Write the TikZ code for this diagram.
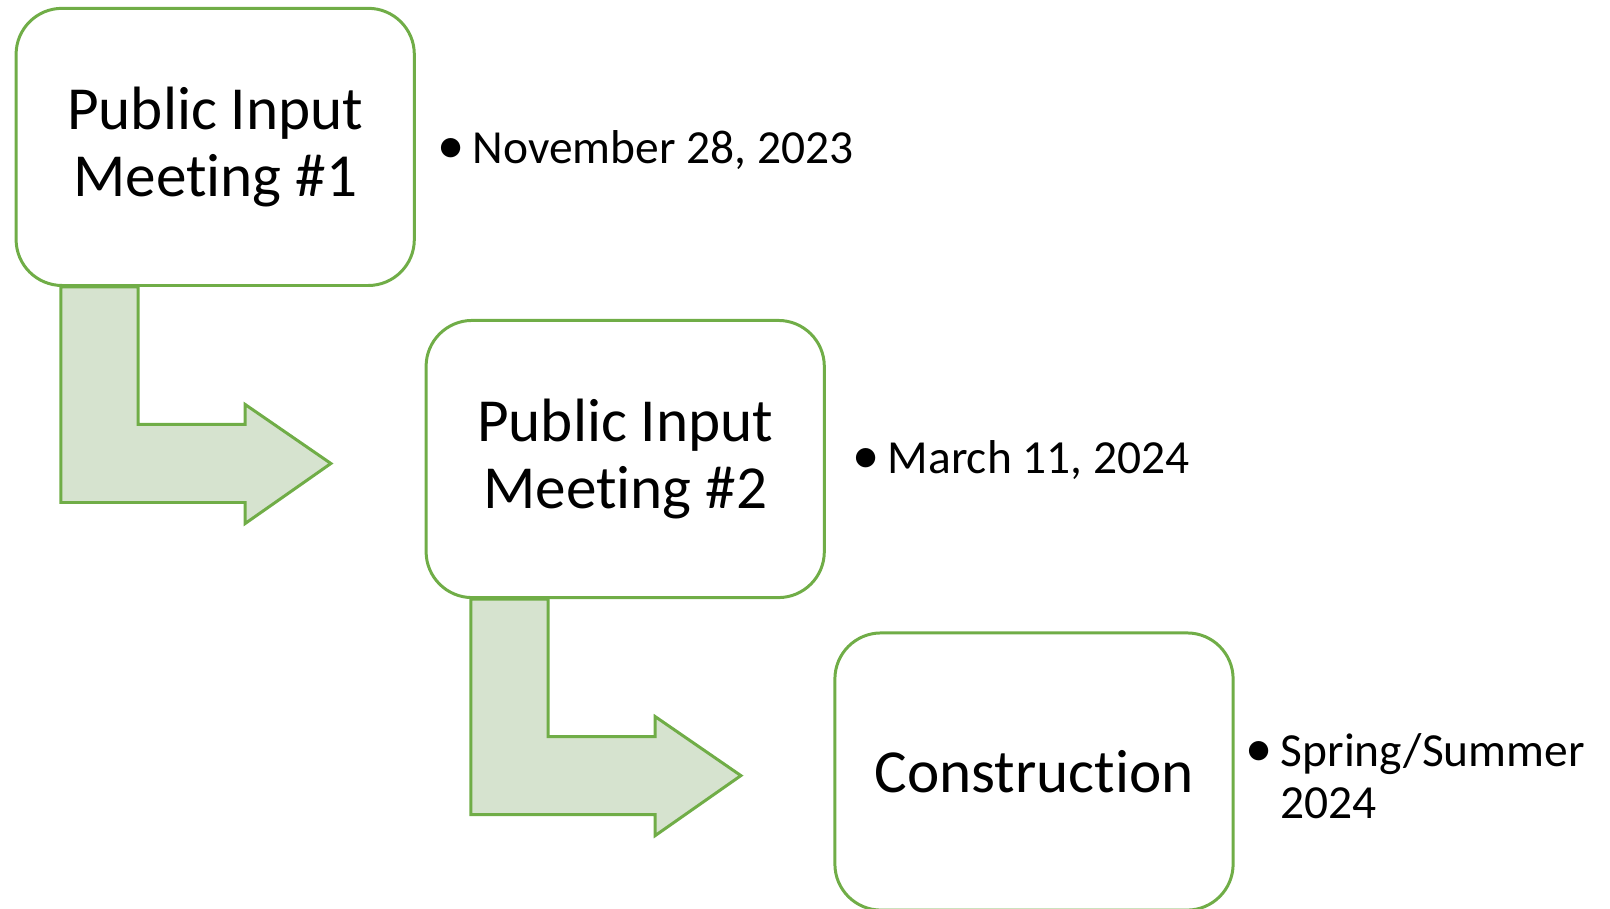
\documentclass[tikz,border=0pt]{standalone}
\usepackage{fontspec}
\setmainfont{Carlito}[Ligatures=NoCommon]
\definecolor{meetgreen}{HTML}{70AD47}
\definecolor{arrowfill}{RGB}{214,227,207}
\newcommand{\datebul}[1]{\makebox[0.33cm][l]{\hspace*{-0.02cm}\scalebox{1.15}{\textbullet}}\begin{tabular}[t]{@{}l@{}}#1\end{tabular}}
\tikzset{
  meetbox/.style={draw=meetgreen, line width=0.85pt, fill=white, rounded corners=0.46cm,
    minimum width=3.98cm, minimum height=2.77cm, align=center,
    font=\fontsize{17.4}{18.9}\selectfont},
  datetext/.style={anchor=base west, inner sep=0pt, font=\fontsize{13.5}{14.8}\selectfont},
  bentarrow/.style={draw=meetgreen, fill=arrowfill, line width=0.85pt}
}
\begin{document}
\begin{tikzpicture}[x=0.01cm, y=-0.01cm]
\useasboundingbox (0,0) rectangle (1610,908);
\begin{scope}
  \clip (0,0) rectangle (1610,908);
\node[meetbox] (m1) at (215.2,146.9) {Public Input\\Meeting \#1};
\node[meetbox] (m2) at (625.2,459) {Public Input\\Meeting \#2};
\node[meetbox] (m3) at (1034,771.5) {Construction};

\node[datetext] (d1) at (439,163) {\datebul{November 28, 2023}};
\node[datetext] (d2) at (854,473.7) {\datebul{March 11, 2024}};
\node[datetext] (d3) at (1247,766) {\datebul{Spring/Summer\\2024}};

% bent arrows
\foreach \a in {m1,m2}{
\begin{scope}[shift={(\a.south west)}]
  \draw[bentarrow] (46.3,0)--(46.3,215.5)--(230.6,215.5)--(230.6,236.5)--(316.3,176.5)
    --(230.6,117.5)--(230.6,137.5)--(123.6,137.5)--(123.6,0)--cycle;
\end{scope}
}
\end{scope}
\end{tikzpicture}
\end{document}
